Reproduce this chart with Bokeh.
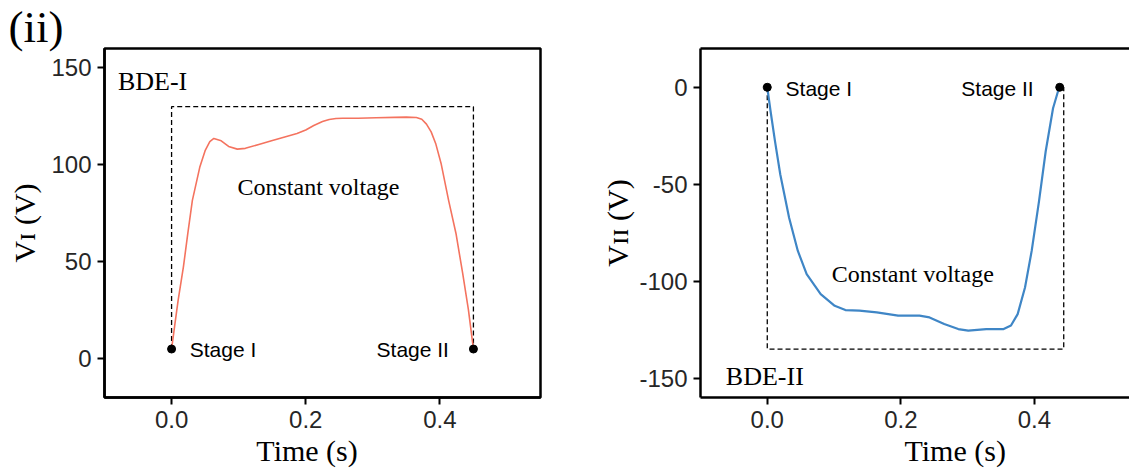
from bokeh.embed import file_html
from bokeh.layouts import row
from bokeh.models import FixedTicker, Label, LinearAxis, NumeralTickFormatter, Range1d
from bokeh.plotting import figure
from bokeh.resources import INLINE

# ---- data -------------------------------------------------------------
# BDE-I output voltage over one cycle (s, V)
t_bde1 = [0.0, 0.005, 0.0097, 0.0177, 0.0242, 0.031, 0.042, 0.05, 0.057, 0.063,
          0.074, 0.085, 0.098, 0.11, 0.13, 0.149, 0.17, 0.187, 0.2, 0.212,
          0.225, 0.235, 0.245, 0.255, 0.278, 0.305, 0.332, 0.35, 0.365, 0.373,
          0.38, 0.387, 0.394, 0.402, 0.413, 0.424, 0.434, 0.4425, 0.45]
v_bde1 = [5, 18, 30, 47.5, 64.6, 81.7, 98.7, 107.3, 112, 113.6,
          112.4, 109.5, 108.1, 108.5, 110.5, 112.4, 114.5, 116.2, 118, 120.3,
          122.3, 123.4, 123.9, 124, 124, 124.3, 124.5, 124.6, 124.4, 123.5,
          121, 117, 110.7, 100.4, 81.7, 64.6, 44, 25.3, 5]

# BDE-II output voltage over one cycle (s, V)
t_bde2 = [0.0, 0.005, 0.0116, 0.0195, 0.0327, 0.0458, 0.059, 0.08, 0.101, 0.117,
          0.138, 0.164, 0.196, 0.228, 0.243, 0.265, 0.286, 0.301, 0.328, 0.354,
          0.365, 0.375, 0.386, 0.396, 0.407, 0.417, 0.428, 0.436, 0.4385]
v_bde2 = [0, -12.5, -27.9, -45, -67.3, -84.4, -96.4, -106.7, -112.7, -114.9,
          -115.2, -116.1, -117.8, -117.8, -118.7, -122.1, -124.7, -125.5, -124.7, -124.7,
          -122.9, -117, -103.3, -84.4, -58.7, -33, -10.8, -1.4, 0]

# switching instants (Stage I / Stage II)
stage_t1 = [0.0, 0.45]
stage_v1 = [5, 5]
stage_t2 = [0.0, 0.438]
stage_v2 = [0, 0]

# constant-voltage window: (t_start, t_end, level_far, level_near)
window1 = (0.0, 0.45, 130, 5)
window2 = (0.0, 0.444, -135, 0)

x_ticks = [0, 0.2, 0.4]
y_ticks1 = [0, 50, 100, 150]
y_ticks2 = [-150, -100, -50, 0]

# ---- styling ----------------------------------------------------------
SERIF = "Liberation Serif"
SANS = "Liberation Sans"
H = 469
FRAME_TOP, FRAME_BOTTOM = 48, 399   # page pixels
TICK_COLOR = "#262626"


def style_axes(p, y_ticks, ylabel, ylabel_standoff):
    p.xgrid.visible = False
    p.ygrid.visible = False
    p.background_fill_color = "white"
    p.border_fill_color = "white"
    p.xaxis.ticker = FixedTicker(ticks=x_ticks)
    p.yaxis.ticker = FixedTicker(ticks=y_ticks)
    p.xaxis.formatter = NumeralTickFormatter(format="0.0")
    p.yaxis.formatter = NumeralTickFormatter(format="0")
    for ax in p.axis:
        ax.axis_line_color = "black"
        ax.axis_line_width = 2.5
        ax.major_tick_line_color = "black"
        ax.major_tick_line_width = 2
        ax.major_tick_out = 7
        ax.major_tick_in = 0
        ax.minor_tick_line_color = None
        ax.major_label_text_font = SANS
        ax.major_label_text_font_size = "24px"
        ax.major_label_text_color = TICK_COLOR
        ax.major_label_standoff = 6
    p.yaxis.axis_label = ylabel
    p.yaxis.axis_label_text_font = SERIF
    p.yaxis.axis_label_text_font_size = "30px"
    p.yaxis.axis_label_text_font_style = "normal"
    p.yaxis.axis_label_text_color = "black"
    p.yaxis.axis_label_standoff = ylabel_standoff


def x_title(p, center_t, text):
    """'Time (s)' line under the tick labels, centred at a chosen time."""
    ax = LinearAxis(ticker=FixedTicker(ticks=[center_t]),
                    major_label_overrides={center_t: text},
                    axis_line_color=None, major_tick_line_color=None,
                    minor_tick_line_color=None,
                    major_label_text_font=SERIF, major_label_text_font_size="30px",
                    major_label_text_color="black", major_label_standoff=-3)
    p.add_layout(ax, "below")


def label(p, text, x, y, size, font=SERIF, align="left", baseline="middle"):
    p.add_layout(Label(x=x, y=y, text=text, text_font=font, text_font_size=f"{size}px",
                       text_align=align, text_baseline=baseline, text_color="black"))


# ---- left panel: BDE-I ------------------------------------------------
L_LEFT, L_WIDTH = 104, 560
p1 = figure(width=L_WIDTH, height=H, x_range=Range1d(-0.1, 0.55), y_range=Range1d(-20, 160),
            output_backend="svg", toolbar_location=None,
            min_border_left=L_LEFT, min_border_right=L_WIDTH - 540,
            min_border_top=FRAME_TOP, min_border_bottom=H - FRAME_BOTTOM)
p1.outline_line_color = "black"
p1.outline_line_width = 2.5
p1.outline_line_alpha = 1.0
style_axes(p1, y_ticks1, "V\u026a (V)", 7)
x_title(p1, 0.202, "Time (s)")

# panel tag in the top-left corner
p1.title.text = "(ii)"
p1.title.align = "left"
p1.title.offset = 8 - L_LEFT
p1.title.text_font = SERIF
p1.title.text_font_size = "45px"
p1.title.text_font_style = "normal"
p1.title.text_color = "black"
p1.title.standoff = -7

ts, te, far, near = window1
p1.line([ts, ts, te, te], [near, far, far, near], line_color="black",
        line_width=1.3, line_dash="5 3")
p1.line(t_bde1, v_bde1, line_color="#f4735f", line_width=1.6)
p1.scatter(stage_t1, stage_v1, size=8, color="black")

label(p1, "BDE-I", -0.08, 143, 26)
label(p1, "Constant voltage", 0.219, 88.5, 24, align="center")
label(p1, "Stage I", 0.027, 5, 21, font=SANS)
label(p1, "Stage II", 0.4135, 5, 21, font=SANS, align="right")

# ---- right panel: BDE-II ----------------------------------------------
R_START = L_WIDTH
R_LEFT = 700
R_WIDTH = 1129 - R_START
p2 = figure(width=R_WIDTH, height=H, x_range=Range1d(-0.1, 0.5425), y_range=Range1d(-160, 20),
            output_backend="svg", toolbar_location=None,
            min_border_left=R_LEFT - R_START, min_border_right=0,
            min_border_top=FRAME_TOP, min_border_bottom=H - FRAME_BOTTOM)
p2.outline_line_color = None
style_axes(p2, y_ticks2, "V\u026a\u026a (V)", 2)
x_title(p2, 0.2815, "Time (s)")
top_edge = LinearAxis(ticker=FixedTicker(ticks=[]), major_label_text_font_size="0px",
                      major_tick_line_color=None, minor_tick_line_color=None,
                      axis_line_width=2.5, axis_line_color="black")
p2.add_layout(top_edge, "above")

ts, te, far, near = window2
p2.line([ts, ts, te, te], [near, far, far, near], line_color="black",
        line_width=1.3, line_dash="5 3")
p2.line(t_bde2, v_bde2, line_color="#3f86c6", line_width=2.2)
p2.scatter(stage_t2, stage_v2, size=8, color="black")

label(p2, "BDE-II", -0.062, -149, 26)
label(p2, "Constant voltage", 0.218, -96.5, 24, align="center")
label(p2, "Stage I", 0.0274, -0.5, 21, font=SANS)
label(p2, "Stage II", 0.399, -0.5, 21, font=SANS, align="right")

layout = row(p1, p2, spacing=0)
open("out.html", "w").write(file_html(layout, INLINE))
